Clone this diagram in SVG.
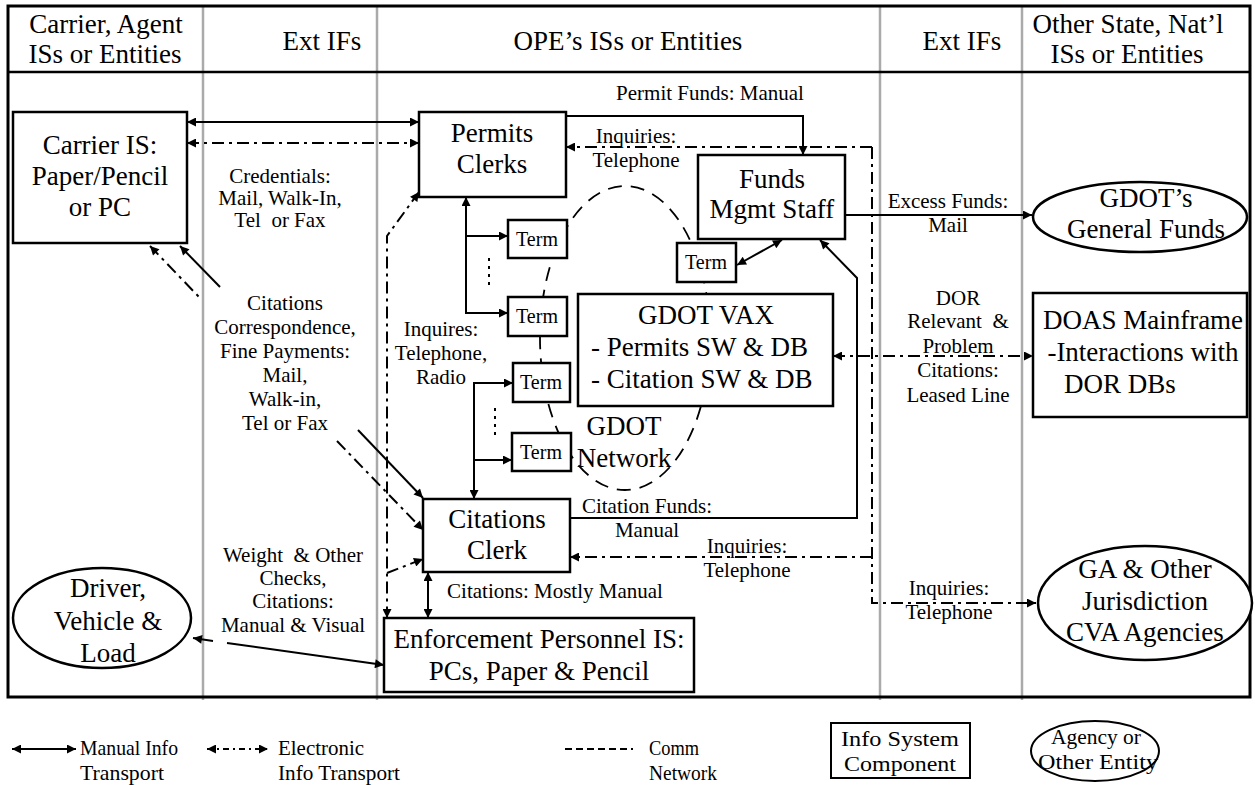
<svg xmlns="http://www.w3.org/2000/svg" width="1255" height="785" viewBox="0 0 1255 785">
<style>
text{font-family:"Liberation Serif","Times New Roman",serif;fill:#000;text-anchor:middle}
.t{font-size:27px}
.l{font-size:21px}
.tm{font-size:20px}
.g{font-size:22px;text-anchor:start}
.n{fill:#fff;stroke:#000;stroke-width:2.5}
.sol{fill:none;stroke:#000;stroke-width:2}
.dd{fill:none;stroke:#000;stroke-width:2;stroke-dasharray:12 5 3 5}
.dt{fill:none;stroke:#000;stroke-width:2;stroke-dasharray:3 5}
.net{fill:none;stroke:#000;stroke-width:1.8;stroke-dasharray:14 9}
.col{stroke:#aaa;stroke-width:2.5}
</style>
<defs>
<marker id="a" viewBox="0 0 10 10" refX="10" refY="5" markerWidth="11" markerHeight="9" markerUnits="userSpaceOnUse" orient="auto-start-reverse"><path d="M0,0 L10,5 L0,10 z" fill="#000"/></marker>
</defs>
<rect x="0" y="0" width="1255" height="785" fill="#fff"/>
<g id="frame">
<line class="col" x1="203" y1="6" x2="203" y2="700"/>
<line class="col" x1="377" y1="6" x2="377" y2="700"/>
<line class="col" x1="880" y1="6" x2="880" y2="700"/>
<line class="col" x1="1022" y1="6" x2="1022" y2="700"/>
<rect x="8" y="6" width="1242" height="691" fill="none" stroke="#000" stroke-width="3"/>
<line x1="8" y1="72" x2="1250" y2="72" stroke="#000" stroke-width="2.5"/>
<text class="t" x="106" y="33">Carrier, Agent</text>
<text class="t" x="105" y="63">ISs or Entities</text>
<text class="t" x="322" y="50">Ext IFs</text>
<text class="t" x="628" y="50">OPE&#8217;s ISs or Entities</text>
<text class="t" x="962" y="50">Ext IFs</text>
<text class="t" x="1128" y="33">Other State, Nat&#8217;l</text>
<text class="t" x="1127" y="63">ISs or Entities</text>
</g>
<g id="gdot-network">
<ellipse class="net" cx="625" cy="338" rx="85" ry="152"/>
<text class="t" x="624" y="435">GDOT</text>
<text class="t" x="624" y="467">Network</text>
</g>
<g id="connectors">
<path class="sol" d="M187,122 H419" marker-start="url(#a)" marker-end="url(#a)"/>
<path class="dd" d="M187,143 H419" marker-start="url(#a)" marker-end="url(#a)"/>
<path class="sol" d="M566,116 H803 V155" marker-end="url(#a)"/>
<path class="dd" d="M872,147 H566" marker-end="url(#a)"/>
<path class="dd" d="M872,147 V603 H1036" marker-end="url(#a)"/>
<path class="dd" d="M872,557 H570" marker-end="url(#a)"/>
<path class="dd" d="M833,356 H1033" marker-start="url(#a)" marker-end="url(#a)"/>
<path class="sol" d="M845,215 H1032" marker-end="url(#a)"/>
<path class="sol" d="M570,518 H857 V278 L820,240" marker-end="url(#a)"/>
<path class="sol" d="M737,265 L782,240" marker-start="url(#a)" marker-end="url(#a)"/>
<path class="sol" d="M466,197 V313 H508" marker-start="url(#a)" marker-end="url(#a)"/>
<path class="sol" d="M466,236 H508" marker-end="url(#a)"/>
<path class="dt" d="M489,258 V286"/>
<path class="sol" d="M474,499 V383 H513" marker-start="url(#a)" marker-end="url(#a)"/>
<path class="sol" d="M474,460 H512" marker-end="url(#a)"/>
<path class="dt" d="M495,408 V438"/>
<path class="sol" d="M428,572 V618" marker-start="url(#a)" marker-end="url(#a)"/>
<path class="sol" d="M180,246 L220,287" marker-start="url(#a)"/>
<path class="sol" d="M358,430 L423,498" marker-end="url(#a)"/>
<path class="dd" d="M150,246 L200,298" marker-start="url(#a)"/>
<path class="dd" d="M337,441 L423,530" marker-end="url(#a)"/>
<path class="dd" d="M419,192 L387,236 V618" marker-start="url(#a)" marker-end="url(#a)"/>
<path class="dd" d="M387,573 L423,559" marker-end="url(#a)"/>
<path class="sol" d="M193,638 L213,641" marker-start="url(#a)"/>
<path class="sol" d="M227,643 L384,665" marker-end="url(#a)"/>
</g>
<g id="carrier-is">
<rect class="n" x="13" y="112" width="174" height="131"/>
<text class="t" x="100" y="154">Carrier IS:</text>
<text class="t" x="100" y="185">Paper/Pencil</text>
<text class="t" x="100" y="216">or PC</text>
</g>
<g id="permits-clerks">
<rect class="n" x="419" y="112" width="147" height="85"/>
<text class="t" x="492" y="142">Permits</text>
<text class="t" x="492" y="173">Clerks</text>
</g>
<g id="funds-mgmt">
<rect class="n" x="698" y="155" width="147" height="84"/>
<text class="t" x="772" y="188">Funds</text>
<text class="t" x="772" y="218">Mgmt Staff</text>
</g>
<g id="term1"><rect class="n" x="508" y="220" width="59" height="38" stroke-width="2"/><text class="tm" x="537" y="246">Term</text></g>
<g id="term2"><rect class="n" x="508" y="297" width="59" height="39" stroke-width="2"/><text class="tm" x="537" y="323">Term</text></g>
<g id="term3"><rect class="n" x="513" y="363" width="57" height="39" stroke-width="2"/><text class="tm" x="541" y="389">Term</text></g>
<g id="term4"><rect class="n" x="512" y="433" width="59" height="38" stroke-width="2"/><text class="tm" x="541" y="459">Term</text></g>
<g id="term5"><rect class="n" x="677" y="243" width="59" height="39" stroke-width="2"/><text class="tm" x="706" y="269">Term</text></g>
<g id="gdot-vax">
<rect class="n" x="578" y="294" width="255" height="112"/>
<text class="t" x="706" y="324">GDOT VAX</text>
<text class="t" x="591" y="356" style="text-anchor:start">- Permits SW &amp; DB</text>
<text class="t" x="591" y="388" style="text-anchor:start">- Citation SW &amp; DB</text>
</g>
<g id="citations-clerk">
<rect class="n" x="423" y="499" width="147" height="73"/>
<text class="t" x="497" y="528">Citations</text>
<text class="t" x="497" y="559">Clerk</text>
</g>
<g id="enforcement">
<rect class="n" x="384" y="618" width="310" height="74"/>
<text class="t" x="539" y="648">Enforcement Personnel IS:</text>
<text class="t" x="539" y="680">PCs, Paper &amp; Pencil</text>
</g>
<g id="driver">
<ellipse class="n" cx="102" cy="618" rx="89" ry="50" stroke-width="2"/>
<text class="t" x="108" y="597">Driver,</text>
<text class="t" x="108" y="630">Vehicle &amp;</text>
<text class="t" x="108" y="662">Load</text>
</g>
<g id="gdot-general-funds">
<ellipse class="n" cx="1140" cy="217" rx="107" ry="35" stroke-width="2"/>
<text class="t" x="1146" y="207">GDOT&#8217;s</text>
<text class="t" x="1146" y="238">General Funds</text>
</g>
<g id="doas">
<rect class="n" x="1033" y="293" width="214" height="124"/>
<text class="t" x="1143" y="329">DOAS Mainframe</text>
<text class="t" x="1143" y="361">-Interactions with</text>
<text class="t" x="1120" y="393">DOR DBs</text>
</g>
<g id="ga-agencies">
<ellipse class="n" cx="1145" cy="603" rx="107" ry="57" stroke-width="2"/>
<text class="t" x="1145" y="578">GA &amp; Other</text>
<text class="t" x="1145" y="610">Jurisdiction</text>
<text class="t" x="1145" y="641">CVA Agencies</text>
</g>
<g id="labels">
<text class="l" x="710" y="100">Permit Funds: Manual</text>
<text class="l" x="636" y="143">Inquiries:</text>
<text class="l" x="636" y="167">Telephone</text>
<text class="l" x="280" y="183">Credentials:</text>
<text class="l" x="280" y="205">Mail, Walk-In,</text>
<text class="l" x="280" y="227" xml:space="preserve">Tel  or Fax</text>
<text class="l" x="285" y="310">Citations</text>
<text class="l" x="285" y="334">Correspondence,</text>
<text class="l" x="285" y="358">Fine Payments:</text>
<text class="l" x="285" y="382">Mail,</text>
<text class="l" x="285" y="406">Walk-in,</text>
<text class="l" x="285" y="430">Tel or Fax</text>
<text class="l" x="441" y="336">Inquires:</text>
<text class="l" x="441" y="360">Telephone,</text>
<text class="l" x="441" y="384">Radio</text>
<text class="l" x="647" y="513">Citation Funds:</text>
<text class="l" x="647" y="537">Manual</text>
<text class="l" x="747" y="553">Inquiries:</text>
<text class="l" x="747" y="577">Telephone</text>
<text class="l" x="555" y="598">Citations: Mostly Manual</text>
<text class="l" x="293" y="562" xml:space="preserve">Weight  &amp; Other</text>
<text class="l" x="293" y="585">Checks,</text>
<text class="l" x="293" y="608">Citations:</text>
<text class="l" x="293" y="632">Manual &amp; Visual</text>
<text class="l" x="948" y="208">Excess Funds:</text>
<text class="l" x="948" y="232">Mail</text>
<text class="l" x="958" y="305">DOR</text>
<text class="l" x="958" y="328" xml:space="preserve">Relevant  &amp;</text>
<text class="l" x="958" y="353">Problem</text>
<text class="l" x="958" y="377">Citations:</text>
<text class="l" x="958" y="402">Leased Line</text>
<text class="l" x="949" y="595">Inquiries:</text>
<text class="l" x="949" y="619">Telephone</text>
</g>
<g id="legend">
<path class="sol" d="M12,749 H76" marker-start="url(#a)" marker-end="url(#a)"/>
<text class="g" x="80" y="755" textLength="98" lengthAdjust="spacingAndGlyphs">Manual Info</text>
<text class="g" x="80" y="780" textLength="84" lengthAdjust="spacingAndGlyphs">Transport</text>
<path fill="none" stroke="#000" stroke-width="2" stroke-dasharray="6 4 2 4" d="M207,749 H268" marker-start="url(#a)" marker-end="url(#a)"/>
<text class="g" x="278" y="755" textLength="86" lengthAdjust="spacingAndGlyphs">Electronic</text>
<text class="g" x="278" y="780" textLength="122" lengthAdjust="spacingAndGlyphs">Info Transport</text>
<path fill="none" stroke="#000" stroke-width="2" stroke-dasharray="7 4" d="M565,749 H633"/>
<text class="g" x="649" y="755" textLength="50" lengthAdjust="spacingAndGlyphs">Comm</text>
<text class="g" x="649" y="780" textLength="68" lengthAdjust="spacingAndGlyphs">Network</text>
<rect x="831" y="723" width="139" height="55" fill="#fff" stroke="#000" stroke-width="2"/>
<text class="g" x="900" y="746" style="text-anchor:middle" textLength="118" lengthAdjust="spacingAndGlyphs">Info System</text>
<text class="g" x="900" y="771" style="text-anchor:middle" textLength="112" lengthAdjust="spacingAndGlyphs">Component</text>
<ellipse cx="1095" cy="751" rx="64" ry="30" fill="#fff" stroke="#000" stroke-width="2"/>
<text class="g" x="1096" y="744" style="text-anchor:middle" textLength="90" lengthAdjust="spacingAndGlyphs">Agency or</text>
<text class="g" x="1098" y="769" style="text-anchor:middle" textLength="120" lengthAdjust="spacingAndGlyphs">Other Entity</text>
</g>
</svg>
